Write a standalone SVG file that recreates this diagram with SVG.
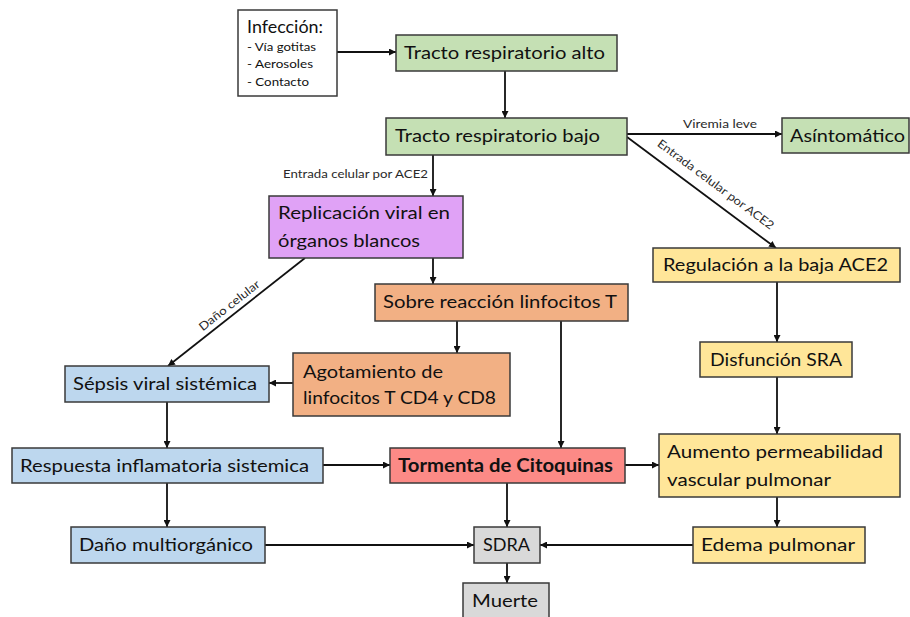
<svg xmlns="http://www.w3.org/2000/svg" width="910" height="617" viewBox="0 0 910 617">
<defs>
<style>
.box{stroke:#3a3a3a;stroke-width:1.5}
.g{fill:#c5e0b4}.p{fill:#e0a2f6}.o{fill:#f2b084}.b{fill:#bdd7ee}.y{fill:#ffe699}.r{fill:#fc8a86}.gr{fill:#d9d9d9}.w{fill:#ffffff}
text{font-family:Lato,"Liberation Sans",sans-serif;fill:#111}
.t{font-size:18px}
.s{font-size:12px}
.l{font-size:11.5px;fill:#2a2a2a}
.c{stroke:#111;stroke-width:1.8;fill:none;marker-end:url(#ah)}
</style>
<marker id="ah" viewBox="0 0 10 10" refX="10" refY="5" markerWidth="7" markerHeight="7" markerUnits="userSpaceOnUse" orient="auto">
<path d="M0,0 L10,5 L0,10 z" fill="#111"/>
</marker>
</defs>
<rect width="910" height="617" fill="#ffffff"/>

<g id="connectors">
<line class="c" x1="337" y1="52" x2="396" y2="52"/>
<line class="c" x1="505" y1="71" x2="505" y2="118"/>
<line class="c" x1="627" y1="134" x2="782" y2="134"/>
<line class="c" x1="627" y1="137" x2="776" y2="248"/>
<line class="c" x1="433" y1="155" x2="433" y2="196"/>
<line class="c" x1="433" y1="258" x2="433" y2="284"/>
<line class="c" x1="305" y1="258" x2="168" y2="366"/>
<line class="c" x1="457" y1="321" x2="457" y2="353"/>
<line class="c" x1="561" y1="321" x2="561" y2="448"/>
<line class="c" x1="293" y1="383" x2="269" y2="383"/>
<line class="c" x1="167" y1="402" x2="167" y2="448"/>
<line class="c" x1="777" y1="282" x2="777" y2="342"/>
<line class="c" x1="777" y1="377" x2="777" y2="434"/>
<line class="c" x1="323" y1="465" x2="390" y2="465"/>
<line class="c" x1="625" y1="465" x2="659" y2="465"/>
<line class="c" x1="167" y1="483" x2="167" y2="527"/>
<line class="c" x1="507" y1="483" x2="507" y2="527"/>
<line class="c" x1="777" y1="497" x2="777" y2="527"/>
<line class="c" x1="265" y1="545" x2="474" y2="545"/>
<line class="c" x1="693" y1="545" x2="540" y2="545"/>
<line class="c" x1="507" y1="563" x2="507" y2="583"/>
<text class="l" x="720" y="128" text-anchor="middle" textLength="74" lengthAdjust="spacingAndGlyphs">Viremia leve</text>
<text class="l" x="428" y="178" text-anchor="end" textLength="145" lengthAdjust="spacingAndGlyphs">Entrada celular por ACE2</text>
<text class="l" x="0" y="0" text-anchor="middle" textLength="142" lengthAdjust="spacingAndGlyphs" transform="translate(716,184) rotate(36.7)" dominant-baseline="central">Entrada celular por ACE2</text>
<text class="l" x="0" y="0" text-anchor="middle" textLength="74" lengthAdjust="spacingAndGlyphs" transform="translate(229,305) rotate(-38.2)" dominant-baseline="central">Daño celular</text>
</g>

<g id="infeccion">
<rect class="box w" x="238" y="10" width="99" height="86"/>
<text x="247" y="33" style="font-size:17px" textLength="76" lengthAdjust="spacingAndGlyphs">Infección:</text>
<text class="s" x="247" y="51" textLength="69" lengthAdjust="spacingAndGlyphs">- Vía gotitas</text>
<text class="s" x="247" y="68" textLength="66" lengthAdjust="spacingAndGlyphs">- Aerosoles</text>
<text class="s" x="247" y="86" textLength="62" lengthAdjust="spacingAndGlyphs">- Contacto</text>
</g>
<g id="tracto-alto">
<rect class="box g" x="396" y="35" width="221" height="36"/>
<text class="t" x="404" y="59" textLength="201" lengthAdjust="spacingAndGlyphs">Tracto respiratorio alto</text>
</g>
<g id="tracto-bajo">
<rect class="box g" x="386" y="118" width="241" height="37"/>
<text class="t" x="395" y="142" textLength="205" lengthAdjust="spacingAndGlyphs">Tracto respiratorio bajo</text>
</g>
<g id="asintomatico">
<rect class="box g" x="782" y="118" width="127" height="35"/>
<text class="t" x="790" y="142" textLength="115" lengthAdjust="spacingAndGlyphs">Asíntomático</text>
</g>
<g id="replicacion">
<rect class="box p" x="269" y="196" width="194" height="62"/>
<text class="t" x="278" y="219" textLength="172" lengthAdjust="spacingAndGlyphs">Replicación viral en</text>
<text class="t" x="278" y="247" textLength="142" lengthAdjust="spacingAndGlyphs">órganos blancos</text>
</g>
<g id="sobre-reaccion">
<rect class="box o" x="375" y="284" width="253" height="37"/>
<text class="t" x="383" y="308" textLength="234" lengthAdjust="spacingAndGlyphs">Sobre reacción linfocitos T</text>
</g>
<g id="regulacion">
<rect class="box y" x="653" y="248" width="247" height="34"/>
<text class="t" x="663" y="271" textLength="225" lengthAdjust="spacingAndGlyphs">Regulación a la baja ACE2</text>
</g>
<g id="disfuncion">
<rect class="box y" x="700" y="342" width="152" height="35"/>
<text class="t" x="710" y="366" textLength="132" lengthAdjust="spacingAndGlyphs">Disfunción SRA</text>
</g>
<g id="sepsis">
<rect class="box b" x="65" y="366" width="204" height="36"/>
<text class="t" x="73" y="390" textLength="184" lengthAdjust="spacingAndGlyphs">Sépsis viral sistémica</text>
</g>
<g id="agotamiento">
<rect class="box o" x="293" y="353" width="217" height="63"/>
<text class="t" x="303" y="378" textLength="140" lengthAdjust="spacingAndGlyphs">Agotamiento de</text>
<text class="t" x="303" y="404" textLength="193" lengthAdjust="spacingAndGlyphs">linfocitos T CD4 y CD8</text>
</g>
<g id="respuesta">
<rect class="box b" x="12" y="448" width="311" height="35"/>
<text class="t" x="20" y="472" textLength="289" lengthAdjust="spacingAndGlyphs">Respuesta inflamatoria sistemica</text>
</g>
<g id="tormenta">
<rect class="box r" x="390" y="448" width="235" height="35"/>
<text class="t" x="398" y="472" style="font-weight:bold" textLength="215" lengthAdjust="spacingAndGlyphs">Tormenta de Citoquinas</text>
</g>
<g id="aumento">
<rect class="box y" x="659" y="434" width="241" height="63"/>
<text class="t" x="667" y="458" textLength="216" lengthAdjust="spacingAndGlyphs">Aumento permeabilidad</text>
<text class="t" x="667" y="486" textLength="164" lengthAdjust="spacingAndGlyphs">vascular pulmonar</text>
</g>
<g id="dano">
<rect class="box b" x="71" y="527" width="194" height="36"/>
<text class="t" x="79" y="551" textLength="174" lengthAdjust="spacingAndGlyphs">Daño multiorgánico</text>
</g>
<g id="sdra">
<rect class="box gr" x="474" y="527" width="66" height="36"/>
<text class="t" x="483" y="551" textLength="47" lengthAdjust="spacingAndGlyphs">SDRA</text>
</g>
<g id="edema">
<rect class="box y" x="693" y="527" width="172" height="36"/>
<text class="t" x="701" y="551" textLength="154" lengthAdjust="spacingAndGlyphs">Edema pulmonar</text>
</g>
<g id="muerte">
<rect class="box gr" x="463" y="583" width="86" height="36"/>
<text class="t" x="472" y="607" textLength="66" lengthAdjust="spacingAndGlyphs">Muerte</text>
</g>
</svg>
